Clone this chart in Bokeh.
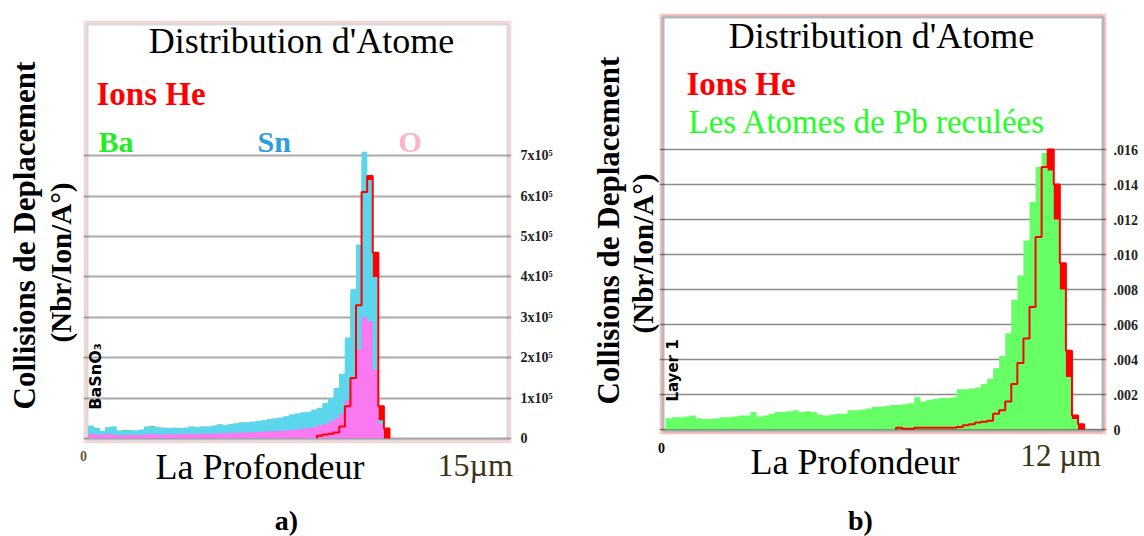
from bokeh.plotting import figure
from bokeh.models import Label, FixedTicker, BoxAnnotation
from bokeh.layouts import row, column
from bokeh.embed import file_html
from bokeh.resources import INLINE

# ---------------- data: panel a) BaSnO3, depth bins of 0.2 µm, values in 10^5 units
bin_a = 0.2
sn_a = [0.32, 0.25, 0.19, 0.28, 0.30, 0.20, 0.20, 0.21, 0.20, 0.22,
        0.30, 0.30, 0.28, 0.27, 0.26, 0.27, 0.26, 0.27, 0.30, 0.28,
        0.30, 0.30, 0.32, 0.35, 0.33, 0.36, 0.38, 0.40, 0.40, 0.42,
        0.44, 0.45, 0.48, 0.50, 0.52, 0.55, 0.60, 0.62, 0.65, 0.66,
        0.72, 0.76, 0.88, 1.00, 1.25, 1.60, 2.50, 3.70, 4.80, 7.10,
        6.40, 4.00, 0.45, 0.00]
ba_a = [0.30, 0.26, 0.18, 0.27, 0.29, 0.19, 0.21, 0.20, 0.19, 0.21,
        0.29, 0.31, 0.27, 0.26, 0.25, 0.26, 0.25, 0.26, 0.29, 0.27,
        0.29, 0.29, 0.31, 0.34, 0.32, 0.35, 0.37, 0.39, 0.39, 0.41,
        0.43, 0.44, 0.47, 0.49, 0.51, 0.54, 0.58, 0.61, 0.63, 0.65,
        0.70, 0.74, 0.86, 0.98, 1.22, 1.58, 2.45, 3.60, 4.70, 6.90,
        6.20, 3.90, 0.42, 0.00]
o_a = [0.12, 0.10, 0.09, 0.11, 0.10, 0.08, 0.08, 0.09, 0.08, 0.09,
       0.10, 0.11, 0.10, 0.10, 0.11, 0.10, 0.11, 0.11, 0.12, 0.11,
       0.12, 0.12, 0.12, 0.13, 0.13, 0.13, 0.14, 0.14, 0.15, 0.15,
       0.16, 0.17, 0.18, 0.18, 0.19, 0.20, 0.21, 0.22, 0.24, 0.26,
       0.28, 0.32, 0.36, 0.42, 0.50, 0.62, 0.95, 1.50, 2.20, 3.00,
       2.90, 1.70, 0.35, 0.00]
he_a = [0, 0, 0, 0, 0, 0, 0, 0, 0, 0,
        0, 0, 0, 0, 0, 0, 0, 0, 0, 0,
        0, 0, 0, 0, 0, 0, 0, 0, 0, 0,
        0, 0, 0, 0, 0, 0, 0, 0, 0, 0,
        0, 0.07, 0.10, 0.12, 0.15, 0.30, 0.80, 1.50, 3.30, 6.10,
        6.50, 4.60, 0.80, 0.25]
ticks_a = [0, 1, 2, 3, 4, 5, 6, 7]
tick_labels_a = ["0", "1x10⁵", "2x10⁵", "3x10⁵", "4x10⁵", "5x10⁵", "6x10⁵", "7x10⁵"]

# ---------------- data: panel b) Pb recoils, depth bins of 0.2 µm, values in 10^-3 units
bin_b = 0.2
pb_b = [0.65, 0.70, 0.70, 0.75, 0.80, 0.65, 0.60, 0.60, 0.65, 0.70,
        0.70, 0.75, 0.80, 0.80, 1.00, 0.75, 0.80, 0.90, 1.00, 1.00,
        1.05, 1.10, 1.00, 1.05, 1.00, 0.85, 0.80, 0.85, 0.90, 0.90,
        1.10, 1.10, 1.15, 1.20, 1.30, 1.30, 1.35, 1.40, 1.40, 1.45,
        1.50, 1.85, 1.60, 1.70, 1.75, 1.80, 1.80, 1.85, 2.30, 2.30,
        2.35, 2.40, 2.60, 2.90, 3.50, 4.20, 5.50, 7.40, 8.80, 10.80,
        13.00, 15.00, 15.80, 14.80, 12.00, 8.00, 3.00, 0.60, 0.00, 0.00]
he_b = [0, 0, 0, 0, 0, 0, 0, 0, 0, 0,
        0, 0, 0, 0, 0, 0, 0, 0, 0, 0,
        0, 0, 0, 0, 0, 0, 0, 0, 0, 0,
        0, 0, 0, 0, 0, 0, 0, 0, 0.10, 0.04,
        0.05, 0.10, 0.10, 0.10, 0.10, 0.10, 0.10, 0.10, 0.15, 0.25,
        0.30, 0.40, 0.45, 0.50, 0.90, 1.10, 1.60, 2.60, 3.80, 5.20,
        7.00, 11.00, 15.00, 16.00, 14.00, 9.50, 4.50, 0.80, 0.30, 0.00]
ticks_b = [0, 2, 4, 6, 8, 10, 12, 14, 16]
tick_labels_b = ["0", ".002", ".004", ".006", ".008", ".010", ".012", ".014", ".016"]

SERIF = "Liberation Serif"
PAGE_H = 536
ROT = 1.5707963267948966


def steps(vals, w):
    xs, ys = [], []
    for i, v in enumerate(vals):
        xs += [i * w, (i + 1) * w]
        ys += [v, v]
    return xs, ys


def line_steps(vals, w):
    nz = [i for i, v in enumerate(vals) if v > 0]
    first, last = nz[0], nz[-1]
    xs, ys = [first * w], [0]
    for i in range(first, last + 1):
        xs += [i * w, (i + 1) * w]
        ys += [vals[i], vals[i]]
    xs.append((last + 1) * w)
    ys.append(0)
    return xs, ys


def aux_fig(x0, y0, w, h):
    # a plain canvas whose data coordinates are page pixels (y downwards)
    p = figure(width=w, height=h, x_range=(x0, x0 + w), y_range=(y0 + h, y0),
               min_border=0, x_axis_location=None, y_axis_location=None,
               toolbar_location=None, output_backend="svg", outline_line_color=None,
               background_fill_color="white", border_fill_color="white", frame_align=False)
    p.grid.visible = False
    return p


def put(p, px, py, s, size, color="black", style="normal", align="left",
        base=True, angle=0.0, font=SERIF, X=None, Y=None):
    # py is the text baseline (base=True) or the text centre (base=False), in page pixels
    fs = float(size.replace("px", ""))
    if base:
        py = py - 0.3375 * fs
    x = X(px) if X else px
    y = Y(py) if Y else py
    p.add_layout(Label(x=x, y=y, text=s, text_font=font, text_font_size=size,
                       text_font_style=style, text_color=color, text_align=align,
                       text_baseline="middle", angle=angle))


def main_fig(g):
    sx, sy = g["sx"], g["sy"]
    x_start = -(g["x0"] - g["L"]) / sx
    x_end = x_start + (g["R"] - g["L"]) / sx
    y_start = -(g["B"] - g["y0"]) / sy
    y_end = y_start + (g["B"] - g["T"]) / sy
    p = figure(frame_width=g["R"] - g["L"], frame_height=g["B"] - g["T"],
               min_border_left=0, min_border_top=g["T"],
               min_border_right=g["right_w"], min_border_bottom=g["extra"],
               x_range=(x_start, x_end), y_range=(y_start, y_end),
               x_axis_location=None, y_axis_location="right",
               toolbar_location=None, output_backend="svg",
               background_fill_color="white", border_fill_color="white",
               outline_line_color=None, frame_align=False)
    p.xgrid.visible = False
    ax = p.yaxis[0]
    ax.ticker = FixedTicker(ticks=g["ticks"])
    ax.major_label_overrides = {t: l for t, l in zip(g["ticks"], g["tick_labels"])}
    ax.axis_line_color = None
    ax.major_tick_line_color = None
    ax.minor_tick_line_color = None
    ax.major_tick_out = 0
    ax.major_tick_in = 0
    ax.major_label_standoff = g["standoff"]
    ax.major_label_text_font = SERIF
    ax.major_label_text_font_style = "bold"
    ax.major_label_text_font_size = g["tick_size"]
    ax.major_label_text_color = "#222222"
    p.ygrid.ticker = FixedTicker(ticks=g["ticks"])
    p.ygrid.grid_line_color = g["grid_color"]
    p.ygrid.grid_line_width = g["grid_width"]

    def X(px):
        return x_start + (px - g["L"]) / sx

    def Y(py):
        return y_start + (g["B"] - py) / sy

    # double frame: outer red line, inner grey/black line, both inside the plot area
    for inset, width, color in ((1.0, 2, g["red"]), (3.5, 3, g["inner"])):
        p.add_layout(BoxAnnotation(left=x_start + inset / sx, right=x_end - inset / sx,
                                   bottom=y_start + inset / sy, top=y_end - inset / sy,
                                   fill_color=None, fill_alpha=0,
                                   line_color=color, line_width=width))
    return p, X, Y


def area(p, vals, w, color):
    xs, ys = steps(vals, w)
    p.varea(x=xs, y1=[0] * len(xs), y2=ys, fill_color=color)


# =============== panel a ===============
ga = dict(L=83, R=511, T=20, B=443, extra=3, x0=88, sx=(506 - 88) / 15.0, y0=438, sy=40.4,
          right_w=61, ticks=ticks_a, tick_labels=tick_labels_a, standoff=9, tick_size="14px",
          grid_color="#a9a9a9", grid_width=2, red="#ff6b6b", inner="#808080")
pa, Xa, Ya = main_fig(ga)
area(pa, he_a, bin_a, "#ff0000")
area(pa, ba_a, bin_a, "#33dd33")
area(pa, sn_a, bin_a, "#5cd6ec")
area(pa, o_a, bin_a, "#fa78f0")
xs, ys = line_steps(he_a, bin_a)
pa.line(xs, ys, line_color="#ff0000", line_width=2)

put(pa, 301, 53, "Distribution d'Atome", "36px", align="center", X=Xa, Y=Ya)
put(pa, 96, 105, "Ions He", "33px", color="#ff0000", style="bold", X=Xa, Y=Ya)
put(pa, 98, 151, "Ba", "30px", color="#22ee22", style="bold", X=Xa, Y=Ya)
put(pa, 257, 151, "Sn", "30px", color="#2a9fdc", style="bold", X=Xa, Y=Ya)
put(pa, 398, 151, "O", "30px", color="#ffb3c6", style="bold", X=Xa, Y=Ya)
put(pa, 95, 376, "BaSnO₃", "16px", style="bold", align="center", base=False,
    angle=ROT, font="DejaVu Sans", X=Xa, Y=Ya)

ha = ga["B"] + ga["extra"]
la = aux_fig(0, 0, ga["L"], ha)
put(la, 24, 235, "Collisions de Deplacement", "31px", style="bold", align="center",
    base=False, angle=ROT)
put(la, 60, 262, "(Nbr/Ion/A°)", "29px", style="bold", align="center",
    base=False, angle=ROT)

ba = aux_fig(0, ha, 572, PAGE_H - ha)
put(ba, 83, 455, "0", "14px", color="#6b5a3a", style="bold", align="center", base=False)
put(ba, 155, 478.5, "La Profondeur", "36px")
put(ba, 437, 475, "15µm", "32px", color="#3d3418")
put(ba, 286, 529, "a)", "28px", style="bold", align="center")

panel_a = column(row(la, pa), ba)

# =============== panel b ===============
gb = dict(L=659, R=1106, T=13, B=434, extra=3, x0=665, sx=(1029 - 665) / 12.0, y0=429, sy=17.5,
          right_w=38, ticks=ticks_b, tick_labels=tick_labels_b, standoff=7, tick_size="14px",
          grid_color="#8a8a8a", grid_width=1.5, red="#ff2020", inner="#111111")
pb, Xb, Yb = main_fig(gb)
area(pb, he_b, bin_b, "#ff0000")
area(pb, pb_b, bin_b, "#66ff66")
xs, ys = line_steps(he_b, bin_b)
pb.line(xs, ys, line_color="#ff0000", line_width=2)

put(pb, 881, 48, "Distribution d'Atome", "36px", align="center", X=Xb, Y=Yb)
put(pb, 686, 95, "Ions He", "33px", color="#ff0000", style="bold", X=Xb, Y=Yb)
put(pb, 688, 133, "Les Atomes de Pb reculées", "33px", color="#22ff22", X=Xb, Y=Yb)
put(pb, 672, 370, "Layer 1", "15px", style="bold", align="center", base=False,
    angle=ROT, font="DejaVu Sans", X=Xb, Y=Yb)

hb = gb["B"] + gb["extra"]
lb = aux_fig(572, 0, gb["L"] - 572, hb)
put(lb, 608, 230, "Collisions de Deplacement", "31px", style="bold", align="center",
    base=False, angle=ROT)
put(lb, 642, 253, "(Nbr/Ion/A°)", "29px", style="bold", align="center",
    base=False, angle=ROT)

bb = aux_fig(572, hb, 572, PAGE_H - hb)
put(bb, 661, 447, "0", "14px", style="bold", align="center", base=False)
put(bb, 750, 474, "La Profondeur", "36px")
put(bb, 1020, 465, "12 µm", "31px", color="#3d3418")
put(bb, 860, 529, "b)", "28px", style="bold", align="center")

panel_b = column(row(lb, pb), bb)

layout = row(panel_a, panel_b)
open("out.html", "w").write(file_html(layout, INLINE))
